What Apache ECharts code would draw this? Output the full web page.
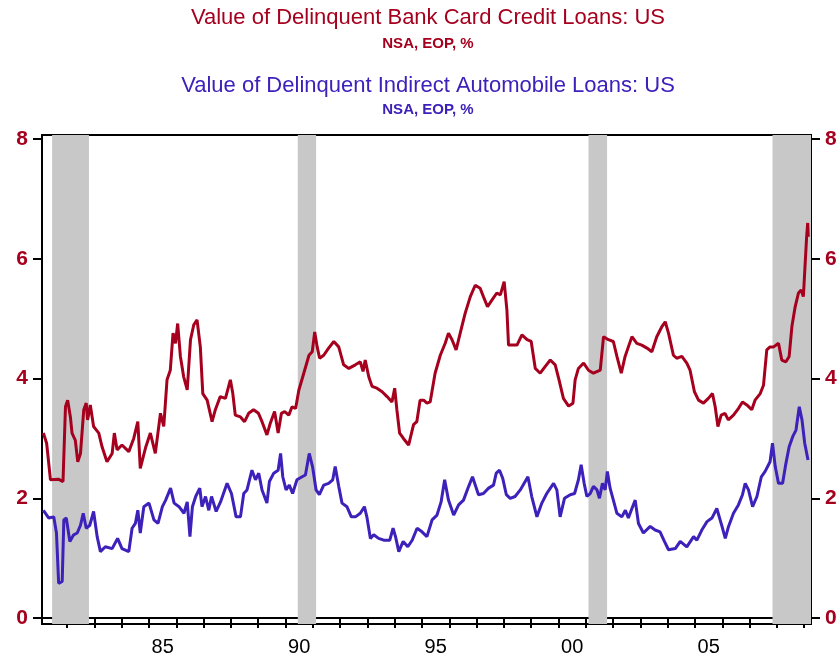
<!DOCTYPE html>
<html>
<head>
<meta charset="utf-8">
<title>Delinquent Bank Card and Auto Loans</title>
<script src="https://cdn.jsdelivr.net/npm/echarts@6/dist/echarts.min.js"></script>
<style>
  html, body { margin: 0; padding: 0; background: #fff; }
  #chart { width: 840px; height: 658px; }
</style>
</head>
<body>
<div id="chart"></div>
<script>
// bank card delinquency, % (NSA, EOP)
const cardYears = [1981.13, 1981.25, 1981.39, 1981.68, 1981.85, 1981.94, 1982.02, 1982.12, 1982.18, 1982.3,
  1982.39, 1982.49, 1982.61, 1982.7, 1982.75, 1982.85, 1982.97, 1983.16, 1983.28, 1983.46,
  1983.65, 1983.73, 1983.83, 1984.01, 1984.26, 1984.44, 1984.59, 1984.68, 1984.87, 1985.05,
  1985.23, 1985.42, 1985.54, 1985.66, 1985.78, 1985.88, 1985.97, 1986.05, 1986.15, 1986.27,
  1986.4, 1986.52, 1986.64, 1986.76, 1986.88, 1986.97, 1987.13, 1987.31, 1987.43, 1987.61,
  1987.8, 1987.98, 1988.07, 1988.16, 1988.35, 1988.5, 1988.65, 1988.83, 1989.01, 1989.14,
  1989.32, 1989.44, 1989.6, 1989.73, 1989.85, 1989.97, 1990.12, 1990.24, 1990.37, 1990.49,
  1990.67, 1990.86, 1990.98, 1991.07, 1991.16, 1991.25, 1991.4, 1991.58, 1991.77, 1991.95,
  1992.13, 1992.32, 1992.56, 1992.74, 1992.84, 1992.92, 1993.05, 1993.17, 1993.35, 1993.54,
  1993.72, 1993.9, 1994.0, 1994.08, 1994.18, 1994.32, 1994.51, 1994.69, 1994.81, 1994.93,
  1995.06, 1995.18, 1995.3, 1995.48, 1995.67, 1995.85, 1995.97, 1996.1, 1996.25, 1996.4,
  1996.58, 1996.77, 1996.95, 1997.13, 1997.25, 1997.4, 1997.56, 1997.74, 1997.87, 1998.01,
  1998.11, 1998.17, 1998.3, 1998.48, 1998.66, 1998.85, 1999.0, 1999.15, 1999.33, 1999.51,
  1999.7, 1999.88, 2000.02, 2000.18, 2000.37, 2000.53, 2000.61, 2000.73, 2000.92, 2001.1,
  2001.28, 2001.53, 2001.65, 2001.83, 2002.01, 2002.14, 2002.3, 2002.44, 2002.56, 2002.69,
  2002.87, 2003.05, 2003.24, 2003.42, 2003.6, 2003.79, 2003.91, 2004.03, 2004.21, 2004.33,
  2004.52, 2004.7, 2004.82, 2004.98, 2005.13, 2005.31, 2005.49, 2005.64, 2005.74, 2005.84,
  2005.96, 2006.1, 2006.22, 2006.41, 2006.59, 2006.74, 2006.9, 2007.08, 2007.2, 2007.39,
  2007.51, 2007.63, 2007.75, 2007.88, 2008.06, 2008.18, 2008.33, 2008.45, 2008.55, 2008.67,
  2008.79, 2008.89, 2008.97, 2009.03, 2009.09, 2009.13, 2009.15];
const cardRate = [3.09, 2.92, 2.31, 2.32, 2.28, 3.53, 3.64, 3.36, 3.09, 2.97,
  2.61, 2.75, 3.48, 3.59, 3.31, 3.56, 3.2, 3.09, 2.86, 2.61,
  2.75, 3.09, 2.81, 2.89, 2.78, 3.0, 3.28, 2.5, 2.84, 3.09,
  2.75, 3.42, 3.2, 3.98, 4.14, 4.76, 4.59, 4.92, 4.37, 4.03,
  3.81, 4.65, 4.9, 4.98, 4.53, 3.75, 3.64, 3.28, 3.48, 3.7,
  3.67, 3.98, 3.75, 3.39, 3.36, 3.28, 3.42, 3.48, 3.42, 3.28,
  3.06, 3.25, 3.45, 3.09, 3.42, 3.45, 3.39, 3.53, 3.5, 3.81,
  4.09, 4.39, 4.45, 4.78, 4.53, 4.34, 4.39, 4.51, 4.62, 4.53,
  4.23, 4.17, 4.23, 4.28, 4.12, 4.31, 4.03, 3.87, 3.84, 3.78,
  3.7, 3.61, 3.84, 3.48, 3.09, 3.0, 2.89, 3.23, 3.28, 3.64,
  3.64, 3.59, 3.61, 4.09, 4.39, 4.59, 4.76, 4.65, 4.48, 4.76,
  5.09, 5.37, 5.56, 5.51, 5.37, 5.2, 5.31, 5.43, 5.4, 5.62,
  5.15, 4.56, 4.56, 4.56, 4.73, 4.65, 4.62, 4.17, 4.09, 4.2,
  4.31, 4.23, 3.98, 3.67, 3.54, 3.59, 3.98, 4.17, 4.26, 4.14,
  4.09, 4.14, 4.7, 4.65, 4.62, 4.37, 4.09, 4.37, 4.53, 4.7,
  4.59, 4.56, 4.51, 4.45, 4.7, 4.87, 4.95, 4.76, 4.39, 4.34,
  4.37, 4.26, 4.14, 3.78, 3.64, 3.59, 3.67, 3.75, 3.53, 3.2,
  3.39, 3.42, 3.31, 3.39, 3.5, 3.61, 3.56, 3.48, 3.64, 3.75,
  3.89, 4.48, 4.53, 4.53, 4.59, 4.31, 4.28, 4.37, 4.87, 5.2,
  5.43, 5.48, 5.37, 5.87, 6.37, 6.6, 6.37];

// indirect auto loan delinquency, %
const autoYears = [1981.13, 1981.33, 1981.51, 1981.61, 1981.69, 1981.82, 1981.88, 1981.97, 1982.1, 1982.24,
  1982.37, 1982.49, 1982.59, 1982.7, 1982.83, 1982.97, 1983.1, 1983.22, 1983.4, 1983.65,
  1983.85, 1984.01, 1984.26, 1984.38, 1984.5, 1984.59, 1984.68, 1984.81, 1985.0, 1985.18,
  1985.33, 1985.49, 1985.61, 1985.79, 1985.92, 1986.1, 1986.28, 1986.4, 1986.5, 1986.59,
  1986.71, 1986.86, 1986.94, 1987.07, 1987.19, 1987.29, 1987.46, 1987.62, 1987.86, 1988.02,
  1988.19, 1988.35, 1988.47, 1988.59, 1988.77, 1988.9, 1989.02, 1989.14, 1989.32, 1989.41,
  1989.57, 1989.73, 1989.82, 1989.9, 1990.02, 1990.14, 1990.26, 1990.42, 1990.61, 1990.73,
  1990.87, 1990.99, 1991.12, 1991.24, 1991.4, 1991.58, 1991.73, 1991.82, 1991.95, 1992.07,
  1992.25, 1992.41, 1992.56, 1992.74, 1992.89, 1992.98, 1993.11, 1993.23, 1993.41, 1993.6,
  1993.82, 1993.94, 1994.03, 1994.15, 1994.31, 1994.48, 1994.64, 1994.82, 1995.0, 1995.18,
  1995.37, 1995.55, 1995.7, 1995.83, 1995.97, 1996.16, 1996.34, 1996.52, 1996.71, 1996.85,
  1997.07, 1997.25, 1997.44, 1997.62, 1997.72, 1997.84, 1997.96, 1998.09, 1998.23, 1998.41,
  1998.6, 1998.88, 1999.02, 1999.21, 1999.39, 1999.57, 1999.82, 1999.94, 2000.06, 2000.22,
  2000.43, 2000.59, 2000.73, 2000.83, 2000.94, 2001.04, 2001.16, 2001.28, 2001.41, 2001.5,
  2001.61, 2001.71, 2001.79, 2001.89, 2002.01, 2002.14, 2002.32, 2002.45, 2002.56, 2002.69,
  2002.81, 2002.93, 2003.11, 2003.36, 2003.54, 2003.72, 2003.88, 2004.03, 2004.28, 2004.46,
  2004.7, 2004.95, 2005.07, 2005.25, 2005.44, 2005.62, 2005.8, 2005.99, 2006.11, 2006.23,
  2006.41, 2006.59, 2006.74, 2006.84, 2006.96, 2007.11, 2007.27, 2007.43, 2007.57, 2007.75,
  2007.84, 2007.94, 2008.06, 2008.21, 2008.33, 2008.45, 2008.58, 2008.7, 2008.82, 2008.92,
  2009.02, 2009.14];
const autoRate = [1.8, 1.67, 1.69, 1.42, 0.58, 0.61, 1.64, 1.67, 1.28, 1.39,
  1.42, 1.55, 1.75, 1.5, 1.55, 1.78, 1.36, 1.11, 1.19, 1.16,
  1.33, 1.16, 1.11, 1.5, 1.58, 1.8, 1.42, 1.86, 1.92, 1.64,
  1.58, 1.86, 1.97, 2.17, 1.92, 1.86, 1.75, 1.94, 1.36, 1.86,
  2.03, 2.17, 1.86, 2.03, 1.8, 2.03, 1.78, 1.94, 2.25, 2.08,
  1.69, 1.69, 2.08, 2.14, 2.47, 2.31, 2.42, 2.14, 1.92, 2.28,
  2.42, 2.47, 2.75, 2.36, 2.14, 2.22, 2.08, 2.31, 2.36, 2.39,
  2.75, 2.53, 2.14, 2.06, 2.22, 2.25, 2.31, 2.53, 2.2, 1.92,
  1.86, 1.69, 1.69, 1.75, 1.86, 1.69, 1.33, 1.39, 1.33, 1.3,
  1.3, 1.5, 1.36, 1.11, 1.28, 1.19, 1.3, 1.5, 1.44, 1.36,
  1.64, 1.72, 1.94, 2.31, 1.97, 1.72, 1.89, 1.97, 2.2, 2.36,
  2.06, 2.08, 2.17, 2.22, 2.42, 2.47, 2.33, 2.06, 2.0, 2.03,
  2.14, 2.36, 2.03, 1.69, 1.92, 2.08, 2.25, 2.14, 1.69, 2.0,
  2.06, 2.08, 2.31, 2.56, 2.25, 2.03, 2.08, 2.2, 2.14, 2.0,
  2.25, 2.14, 2.45, 2.17, 1.97, 1.75, 1.69, 1.8, 1.67, 1.83,
  1.97, 1.58, 1.42, 1.53, 1.47, 1.44, 1.28, 1.14, 1.16, 1.28,
  1.19, 1.36, 1.3, 1.47, 1.61, 1.67, 1.83, 1.53, 1.33, 1.53,
  1.75, 1.89, 2.06, 2.25, 2.14, 1.86, 2.03, 2.36, 2.45, 2.61,
  2.92, 2.53, 2.25, 2.25, 2.58, 2.86, 3.03, 3.14, 3.53, 3.31,
  2.92, 2.64];

// recessions (shaded)
const recStart = [1981.45, 1990.45, 2001.1, 2007.84];
const recEnd = [1982.8, 1991.12, 2001.78, 2009.25];

const yTicks = [0, 2, 4, 6, 8];
const xTickYears = [1982, 1983, 1984, 1985, 1986, 1987, 1988, 1989, 1990, 1991, 1992, 1993, 1994, 1995,
  1996, 1997, 1998, 1999, 2000, 2001, 2002, 2003, 2004, 2005, 2006, 2007, 2008, 2009];
const xLabelYears = [1985, 1990, 1995, 2000, 2005];

const RED = '#A6001F';
const BLUE = '#3E20BA';
const FONT = '"Liberation Sans", Arial, sans-serif';

const chart = echarts.init(document.getElementById('chart'));

const yAxisBase = (pos) => ({
  type: 'value',
  position: pos,
  min: -0.1,
  max: 8.07,
  splitLine: { show: false },
  axisLine: { show: true, lineStyle: { color: '#000', width: 2 } },
  axisTick: { show: true, customValues: yTicks, length: 9, lineStyle: { color: '#000', width: 2 } },
  axisLabel: {
    customValues: yTicks,
    color: RED,
    fontSize: 21,
    fontWeight: 'bold',
    fontFamily: FONT,
    margin: 14,
  },
})

const option = {
  animation: false,
  backgroundColor: '#fff',
  graphic: [
    { type: 'text', x: 428, y: 7, style: { text: 'Value of Delinquent Bank Card Credit Loans: US', fill: RED, font: '22px ' + FONT, textAlign: 'center' } },
    { type: 'text', x: 428, y: 36, style: { text: 'NSA, EOP, %', fill: RED, font: 'bold 15px ' + FONT, textAlign: 'center' } },
    { type: 'text', x: 428, y: 75, style: { text: 'Value of Delinquent Indirect Automobile Loans: US', fill: BLUE, font: '22px ' + FONT, textAlign: 'center' } },
    { type: 'text', x: 428, y: 102, style: { text: 'NSA, EOP, %', fill: BLUE, font: 'bold 15px ' + FONT, textAlign: 'center' } },
  ],
  grid: {
    left: 42,
    right: 29,
    top: 135,
    bottom: 34,
    show: true,
    borderColor: '#000',
    borderWidth: 2,
  },
  xAxis: {
    type: 'value',
    min: 1981.08,
    max: 2009.25,
    splitLine: { show: false },
    axisLine: { show: true, lineStyle: { color: '#000', width: 2 } },
    axisTick: { show: true, customValues: xTickYears, length: 10, lineStyle: { color: '#000', width: 2 } },
    axisLabel: {
      customValues: xLabelYears.map((y) => y + 0.5),
      formatter: (v) => String(Math.floor(v) % 100).padStart(2, '0'),
      color: '#000',
      fontSize: 20,
      fontFamily: FONT,
      margin: 13,
    },
  },
  yAxis: [yAxisBase('left'), yAxisBase('right')],
  series: [
    {
      name: 'Bank Card',
      type: 'line',
      data: cardYears.map((t, i) => [t, cardRate[i]]),
      showSymbol: false,
      lineStyle: { color: RED, width: 3 },
      itemStyle: { color: RED },
      markArea: {
        silent: true,
        itemStyle: { color: '#C8C8C8' },
        data: recStart.map((s, i) => [{ xAxis: s }, { xAxis: recEnd[i] }]),
      },
    },
    {
      name: 'Indirect Auto',
      type: 'line',
      data: autoYears.map((t, i) => [t, autoRate[i]]),
      showSymbol: false,
      lineStyle: { color: BLUE, width: 3 },
      itemStyle: { color: BLUE },
    },
  ],
}

chart.setOption(option)
</script>
</body>
</html>
